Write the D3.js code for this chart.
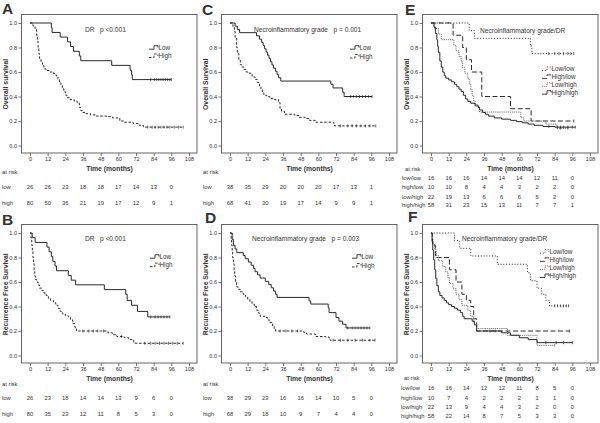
<!DOCTYPE html>
<html><head><meta charset="utf-8">
<script src="https://cdn.jsdelivr.net/npm/d3@7"></script>
<style>
body{margin:0;background:#fff}
svg{display:block}
text{font-family:"Liberation Sans",Arial,sans-serif;fill:#333}
</style>
</head><body>
<svg id="chart" width="600" height="423"></svg>
<script>
// ---------- shared ticks ----------
const timeTicks = [0,12,24,36,48,60,72,84,96,108];
const survTicks = [0,0.2,0.4,0.6,0.8,1.0];
const riskTimes = [0,12,24,36,48,60,72,84,96];

// ---------- Panel A : Overall survival by DR ----------
const aLow = [[0,1],[14.5,0.962],[15,0.923],[20.5,0.885],[25.5,0.846],[27.5,0.808],[29.5,0.769],[33.5,0.731],[34.5,0.692],[55.5,0.654],[68,0.615],[69,0.577],[69.5,0.538],[96,0.538]];
const aLowCens = [82,84.5,86,87.5,89,90.5,92,93.5,95,96];
const aHigh = [[0,1],[2,0.975],[3.5,0.95],[4.5,0.9],[5,0.85],[5.5,0.8],[6,0.75],[6.5,0.71],[7.5,0.675],[8.5,0.65],[9.5,0.625],[11,0.612],[13,0.6],[16,0.587],[17,0.575],[18,0.56],[19,0.537],[20,0.512],[21,0.487],[22,0.462],[23,0.44],[24,0.412],[25,0.39],[27,0.375],[30,0.362],[32,0.35],[33.5,0.31],[34.5,0.285],[36,0.27],[38,0.26],[41,0.25],[45,0.24],[52,0.235],[56,0.225],[61,0.2],[64,0.19],[70,0.18],[74,0.165],[77,0.15],[104,0.15]];
const aHighCens = [80,83,85,87,89,91,93,95,98,101,104];
const aRiskLow = [26,26,23,18,18,17,14,13,0];
const aRiskHigh = [80,50,36,21,19,17,12,9,1];

// ---------- Panel B : Recurrence free survival by DR ----------
const bLow = [[0,1],[1.5,0.962],[3.5,0.923],[11.5,0.885],[13,0.846],[14.5,0.808],[15.5,0.769],[17,0.731],[18,0.692],[26,0.654],[28,0.615],[31,0.577],[50.5,0.538],[65,0.5],[66,0.45],[69,0.41],[73,0.36],[80,0.315],[95,0.315]];
const bLowCens = [82,85,87,89,91,93,95];
const bHigh = [[0,1],[0.7,0.96],[1.2,0.9],[1.6,0.85],[2,0.8],[2.4,0.75],[2.8,0.7],[3.2,0.65],[3.6,0.62],[4.5,0.6],[5.5,0.575],[6.5,0.55],[8,0.53],[9.5,0.51],[11,0.49],[12.5,0.465],[14,0.45],[16,0.43],[17.5,0.41],[19,0.385],[20.5,0.36],[22,0.34],[24,0.325],[26,0.315],[27.5,0.29],[29,0.26],[30.5,0.23],[31.5,0.2],[53,0.185],[56,0.17],[59,0.155],[64,0.145],[67,0.13],[70.5,0.1],[104,0.1]];
const bHighCens = [36,40,43,46,50,62,78,82,85,88,91,94,97,100,104];
const bRiskLow = [26,23,18,14,14,13,9,6,0];
const bRiskHigh = [80,35,23,12,11,8,5,3,0];

// ---------- Panel C : Overall survival by necroinflammatory grade ----------
const cLow = [[0,1],[3.5,0.974],[5,0.947],[6.5,0.921],[18,0.895],[20,0.868],[21.5,0.842],[22.5,0.816],[23.5,0.789],[24.5,0.763],[25.5,0.737],[26.5,0.711],[27.5,0.684],[28.5,0.658],[29.5,0.632],[31,0.605],[32,0.579],[33,0.553],[34.5,0.526],[68.5,0.5],[70,0.47],[76.5,0.435],[77.5,0.4],[96.5,0.4]];
const cLowCens = [82,84,86,88,90,92,94,96.5];
const cHigh = [[0,1],[2,0.97],[3,0.93],[3.5,0.88],[4.5,0.8],[5,0.75],[6,0.7],[7,0.66],[8,0.64],[9.5,0.62],[11,0.6],[13,0.59],[15,0.56],[17,0.54],[18.5,0.515],[20,0.48],[21,0.46],[22,0.43],[23,0.41],[25,0.4],[27,0.385],[30,0.375],[33,0.35],[34,0.3],[35,0.28],[37,0.255],[44,0.245],[47,0.23],[51,0.22],[54,0.205],[58,0.19],[70.5,0.175],[71,0.16],[99,0.16]];
const cHighCens = [75,80,83,86,89,92,95,99];
const cRiskLow = [38,35,29,20,20,20,17,13,1];
const cRiskHigh = [68,41,30,19,17,14,9,9,1];

// ---------- Panel D : Recurrence free survival by necroinflammatory grade ----------
const dLow = [[0,1],[1.5,0.947],[2.3,0.9],[3.4,0.87],[4.6,0.84],[9,0.816],[10.3,0.79],[12.5,0.763],[14.4,0.737],[16,0.711],[17,0.684],[18.7,0.658],[20.5,0.632],[24,0.605],[26.3,0.579],[28,0.553],[29.5,0.526],[31,0.5],[32,0.474],[53.7,0.445],[54.8,0.42],[66.7,0.39],[67.3,0.35],[72,0.31],[74,0.28],[76.5,0.255],[78.8,0.225],[95,0.225]];
const dLowCens = [80,83,85,87,89,91,93,95];
const dHigh = [[0,1],[0.8,0.95],[1.1,0.9],[1.5,0.85],[1.8,0.8],[2.3,0.75],[2.8,0.7],[3.2,0.65],[3.7,0.6],[4.5,0.56],[5.5,0.54],[7,0.52],[9,0.5],[10.5,0.48],[12,0.46],[13.5,0.44],[15,0.42],[16.5,0.4],[18,0.37],[19.5,0.345],[20.5,0.32],[24,0.31],[25.5,0.29],[27,0.27],[29,0.24],[30,0.22],[31,0.2],[50,0.19],[52,0.175],[58,0.155],[65,0.15],[67.3,0.13],[68,0.125],[98.5,0.125]];
const dHighCens = [34,38,42,46,70,75,80,85,90,95,98.5];
const dRiskLow = [38,29,23,16,16,14,10,5,0];
const dRiskHigh = [68,29,18,10,9,7,4,4,0];

// ---------- Panel E : Overall survival by grade/DR ----------
const eLowLow = [[0,1],[26,0.9375],[29.5,0.875],[67.5,0.8125],[68.5,0.75],[97,0.75]];
const eLowLowCens = [80,84,87,90,93,95,97];
const eHighLow = [[0,1],[15,0.9],[21.5,0.8],[24,0.7],[27.5,0.6],[34.5,0.4],[54,0.3],[68,0.2],[97,0.2]];
const eHighLowCens = [97];
const eLowHigh = [[0,1],[2.5,0.955],[5,0.909],[7,0.864],[15.5,0.818],[17,0.773],[19,0.727],[20.5,0.682],[21.5,0.636],[23,0.591],[25,0.545],[26,0.5],[27,0.455],[28,0.409],[29,0.364],[30,0.318],[33,0.273],[61,0.227],[63,0.2],[78,0.175],[85,0.14],[93,0.14]];
const eLowHighCens = [88,93];
const eHighHigh = [[0,1],[2,0.966],[3,0.914],[4,0.862],[4.5,0.81],[5,0.76],[6,0.69],[7,0.64],[8,0.6],[9,0.57],[10,0.55],[12,0.535],[14,0.52],[16,0.5],[17.5,0.48],[19,0.46],[20.5,0.44],[22,0.41],[23.5,0.38],[25,0.36],[27,0.345],[30,0.33],[32,0.31],[33,0.29],[35,0.27],[37,0.255],[39,0.24],[43,0.225],[48,0.215],[54,0.205],[58,0.195],[62,0.185],[66,0.175],[70,0.165],[76,0.155],[84,0.15],[98,0.15]];
const eHighHighCens = [80,86,88,90,93,96,98];
const eRiskLowLow = [16,16,16,14,14,14,12,11,0];
const eRiskHighLow = [10,10,8,4,4,3,2,2,0];
const eRiskLowHigh = [22,19,13,6,6,6,5,2,0];
const eRiskHighHigh = [58,31,23,15,13,11,7,7,1];

// ---------- Panel F : Recurrence free survival by grade/DR ----------
const fLowLow = [[0,1],[16,0.9375],[19.5,0.875],[27,0.8125],[45,0.745],[65.5,0.675],[67.5,0.61],[72,0.55],[75,0.5],[78,0.45],[80.5,0.405],[93.5,0.405]];
const fLowLowCens = [84,86,88,90,92,93.5];
const fHighLow = [[0,1],[1,0.9],[3,0.8],[12.5,0.7],[17,0.6],[21,0.5],[24,0.45],[27,0.4],[29,0.3],[31,0.2],[94,0.2]];
const fHighLowCens = [94];
const fLowHigh = [[0,1],[1,0.955],[1.5,0.91],[2.5,0.864],[3.5,0.818],[5,0.773],[8,0.727],[10,0.682],[11.5,0.636],[12.5,0.59],[15,0.545],[17,0.5],[19,0.455],[21,0.41],[25,0.37],[27,0.32],[29,0.27],[31,0.22],[52,0.165],[72,0.083],[84,0.083]];
const fLowHighCens = [84];
const fHighHigh = [[0,1],[0.7,0.93],[1.2,0.86],[1.8,0.78],[2.5,0.7],[3.2,0.63],[4,0.57],[5,0.52],[6,0.49],[7.5,0.47],[9,0.45],[10.5,0.43],[12,0.415],[14,0.4],[16,0.385],[18,0.37],[20,0.35],[21.5,0.32],[22.5,0.3],[28,0.28],[29.5,0.25],[31,0.2],[48,0.185],[54,0.165],[60,0.145],[66,0.13],[72,0.105],[96,0.105]];
const fHighHighCens = [40,44,78,85,90,96];
const fRiskLowLow = [16,16,14,12,12,11,8,5,0];
const fRiskHighLow = [10,7,4,2,2,2,1,1,0];
const fRiskLowHigh = [22,13,9,4,4,3,2,0,0];
const fRiskHighHigh = [58,22,14,8,7,5,3,3,0];

// ---------- styles ----------
const styles = {
  solid:  {dash:null, color:"#2a2a2a", w:1},
  dash:   {dash:"2.5,1.8", color:"#2a2a2a", w:1},
  dot:    {dash:"1,1.8", color:"#2a2a2a", w:1},
  longd:  {dash:"5,2.5", color:"#2a2a2a", w:1},
  grey:   {dash:"1.2,0.9", color:"#707070", w:1}
};

const panels = [
  {letter:"A", col:0, row:0, title:"DR   p <0.001", ylab:"Overall survival",
   series:[{name:"Low",d:aLow,c:aLowCens,s:"solid"},{name:"High",d:aHigh,c:aHighCens,s:"dash"}],
   risk:[["low",aRiskLow],["high",aRiskHigh]]},
  {letter:"C", col:1, row:0, title:"Necroinflammatory grade   p = 0.001", ylab:"Overall Survival",
   series:[{name:"Low",d:cLow,c:cLowCens,s:"solid"},{name:"High",d:cHigh,c:cHighCens,s:"dash"}],
   risk:[["low",cRiskLow],["high",cRiskHigh]]},
  {letter:"E", col:2, row:0, title:"Necroinflammatory grade/DR", ylab:"Overall Survival",
   series:[{name:"Low/low",d:eLowLow,c:eLowLowCens,s:"dot"},{name:"High/low",d:eHighLow,c:eHighLowCens,s:"longd"},
           {name:"Low/high",d:eLowHigh,c:eLowHighCens,s:"grey"},{name:"High/high",d:eHighHigh,c:eHighHighCens,s:"solid"}],
   risk:[["low/low",eRiskLowLow],["high/low",eRiskHighLow],["low/high",eRiskLowHigh],["high/high",eRiskHighHigh]]},
  {letter:"B", col:0, row:1, title:"DR   p <0.001", ylab:"Recurrence Free Survival",
   series:[{name:"Low",d:bLow,c:bLowCens,s:"solid"},{name:"High",d:bHigh,c:bHighCens,s:"dash"}],
   risk:[["low",bRiskLow],["high",bRiskHigh]]},
  {letter:"D", col:1, row:1, title:"Necroinflammatory grade   p = 0.003", ylab:"Recurrence Free Survival",
   series:[{name:"Low",d:dLow,c:dLowCens,s:"solid"},{name:"High",d:dHigh,c:dHighCens,s:"dash"}],
   risk:[["low",dRiskLow],["high",dRiskHigh]]},
  {letter:"F", col:2, row:1, title:"Necroinflammatory grade/DR", ylab:"Recurrence Free Survival",
   series:[{name:"Low/low",d:fLowLow,c:fLowLowCens,s:"dot"},{name:"High/low",d:fHighLow,c:fHighLowCens,s:"longd"},
           {name:"Low/high",d:fLowHigh,c:fLowHighCens,s:"grey"},{name:"High/high",d:fHighHigh,c:fHighHighCens,s:"solid"}],
   risk:[["low/low",fRiskLowLow],["high/low",fRiskHighLow],["low/high",fRiskLowHigh],["high/high",fRiskHighHigh]]}
];

// ---------- layout ----------
const colX0 = [30, 230, 431];
const rowOff = [0, 210];
const layout = {
  A:{letter:[2,14], title:[85,31.5], leg:[149,47.7,8.3], riskY:[172,186.5,202.5], riskLX:2, atX:2},
  C:{letter:[202,15], title:[254,31.5], leg:[350,47.7,8.8], riskY:[172,186.5,202.5], riskLX:203, atX:203},
  E:{letter:[405,15], title:[480,32.5], leg:[542,69,7.9], riskY:[169,177.5,187,196.5,205], riskLX:402, atX:405},
  B:{letter:[2,225], title:[85,240.5], leg:[150,256.7,8.4], riskY:[384,397.7,414], riskLX:2, atX:2},
  D:{letter:[205,223], title:[252,240.5], leg:[352,256.7,8.8], riskY:[383.5,397.7,414], riskLX:203, atX:203},
  F:{letter:[408,222], title:[462,240.5], leg:[540,251.7,8.1], riskY:[378,387.7,397.7,407.3,416], riskLX:401, atX:404}
};

const svg = d3.select("#chart");

function survAt(d, t){ let s = d[0][1]; for(const p of d){ if(p[0] <= t) s = p[1]; } return s; }

panels.forEach(p => {
  const L = layout[p.letter];
  const x0 = colX0[p.col], off = rowOff[p.row];
  const x = d3.scaleLinear().domain([0,108]).range([x0, x0+159]);
  const y = d3.scaleLinear().domain([0,1]).range([145.5+off, 23+off]);
  const boxL = x0-8.5, boxT = 14.5+off, boxR = x0+167, boxB = 153+off;
  const g = svg.append("g");

  g.append("rect").attr("x",boxL).attr("y",boxT).attr("width",boxR-boxL).attr("height",boxB-boxT)
    .attr("fill","none").attr("stroke","#555").attr("stroke-width",0.9);

  const ya = g.append("g").attr("transform",`translate(${boxL},0)`)
    .call(d3.axisLeft(y).tickValues(survTicks).tickFormat(d3.format(".1f")).tickSize(3).tickPadding(1.5));
  const xa = g.append("g").attr("transform",`translate(0,${boxB})`)
    .call(d3.axisBottom(x).tickValues(timeTicks).tickSize(3).tickPadding(1.5));
  [ya,xa].forEach(a => {
    a.select(".domain").remove();
    a.selectAll("line").attr("stroke","#555").attr("stroke-width",0.8);
    a.selectAll("text").attr("font-size",5.6).attr("fill","#444").style("font-family","'Liberation Sans',Arial,sans-serif");
  });

  // letter
  g.append("text").attr("x",L.letter[0]).attr("y",L.letter[1]).attr("font-size",15.5).attr("font-weight","bold")
    .attr("fill","#111").text(p.letter);
  // title
  g.append("text").attr("x",L.title[0]).attr("y",L.title[1]).attr("font-size",6.6).style("white-space","pre")
    .attr("fill","#444").text(p.title);
  // y label
  g.append("text").attr("transform",`translate(${x0-22},${(y(0)+y(1))/2}) rotate(-90)`)
    .attr("text-anchor","middle").attr("font-size",6.8).attr("font-weight","bold").attr("fill","#222").text(p.ylab);
  // x label
  g.append("text").attr("x",x(54)).attr("y",boxB+18).attr("text-anchor","middle")
    .attr("font-size",6.8).attr("font-weight","bold").attr("fill","#222").text("Time (months)");

  // curves
  const line = d3.line().x(d=>x(d[0])).y(d=>y(d[1])).curve(d3.curveStepAfter);
  p.series.forEach(s => {
    const st = styles[s.s];
    g.append("path").attr("d",line(s.d)).attr("fill","none").attr("stroke",st.color)
      .attr("stroke-width",st.w).attr("stroke-dasharray",st.dash);
    g.selectAll(null).data(s.c).enter().append("line")
      .attr("x1",t=>x(t)).attr("x2",t=>x(t))
      .attr("y1",t=>y(survAt(s.d,t))-1.5).attr("y2",t=>y(survAt(s.d,t))+1.5)
      .attr("stroke",st.color).attr("stroke-width",0.7);
  });

  // legend
  p.series.forEach((s,i) => {
    const st = styles[s.s];
    const lx = L.leg[0], ly = L.leg[1] + i*L.leg[2];
    g.append("path").attr("d",`M${lx},${ly+1.5}H${lx+5}V${ly-2}H${lx+9}V${ly}`)
      .attr("fill","none").attr("stroke",st.color).attr("stroke-width",0.9).attr("stroke-dasharray",st.dash);
    g.append("text").attr("x",lx+9.5).attr("y",ly+2.2).attr("font-size",6.3).attr("fill","#444").text(s.name);
  });

  // at risk table
  g.append("text").attr("x",L.atX).attr("y",L.riskY[0]+2).attr("font-size",5.8).attr("fill","#444").text("at risk");
  p.risk.forEach((r,i) => {
    const ry = L.riskY[i+1]+2;
    g.append("text").attr("x",L.riskLX).attr("y",ry).attr("font-size",5.8).attr("fill","#444").text(r[0]);
    g.selectAll(null).data(riskTimes).enter().append("text")
      .attr("x",t=>x(t)).attr("y",ry).attr("text-anchor","middle").attr("font-size",5.8).attr("fill","#444")
      .text((t,j)=>r[1][j]);
  });
});
</script>
</body></html>
